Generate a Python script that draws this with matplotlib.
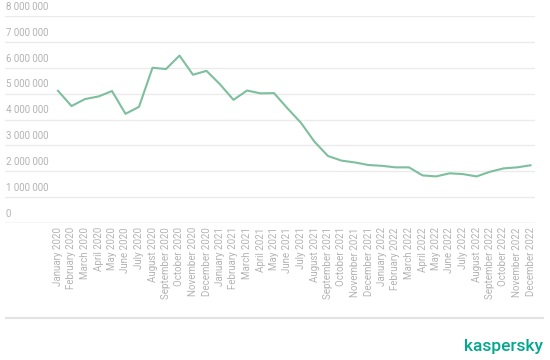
import matplotlib.pyplot as plt
from matplotlib.lines import Line2D

months = [
    "January", "February", "March", "April", "May", "June",
    "July", "August", "September", "October", "November", "December",
]
years = [2020, 2021, 2022]
labels = [f"{m} {y}" for y in years for m in months]

values = [
    5.11, 4.52, 4.79, 4.89, 5.10, 4.22, 4.49, 6.00, 5.95, 6.47, 5.73, 5.88,
    5.36, 4.76, 5.12, 5.01, 5.02, 4.43, 3.87, 3.14, 2.59, 2.41, 2.34, 2.24,
    2.21, 2.15, 2.15, 1.84, 1.80, 1.92, 1.89, 1.80, 1.98, 2.11, 2.15, 2.23,
]
values = [v * 1e6 for v in values]

y_ticks = [0, 1e6, 2e6, 3e6, 4e6, 5e6, 6e6, 7e6, 8e6]

W, H = 550, 360
fig = plt.figure(figsize=(5.5, 3.6), dpi=100)
plt.rcParams["font.family"] = ["Roboto", "DejaVu Sans"]

# axes from x=5..535 px, y=16..223 px (from top)
ax = fig.add_axes([5 / W, (H - 223) / H, 530 / W, (223 - 16) / H])

x = list(range(len(values)))
ax.plot(x, values, color="#7dbf9e", lw=1.5)

# first point at px 58, last at px 530.5
ppm = (530.5 - 58) / 35
ax.set_xlim(-(58 - 5) / ppm, 35 + (535 - 530.5) / ppm)
ax.set_ylim(0, 8e6)

ax.set_yticks(y_ticks)
ax.yaxis.grid(True, color="#ebebeb", lw=1)
ax.tick_params(axis="y", length=0, labelleft=False)
# y labels sit above their gridline, left aligned
for t in y_ticks:
    lab = f"{int(t):,}".replace(",", " ")
    ax.annotate(lab, xy=(1 / 530, t), xycoords=ax.get_yaxis_transform(),
                xytext=(0, 3), textcoords="offset points",
                ha="left", va="bottom", fontsize=7, color="#b3b3b3")

ax.set_xticks(x)
ax.set_xticklabels(labels, rotation=90, fontsize=7, color="#b3b3b3")
ax.tick_params(axis="x", length=0, pad=3)

for s in ax.spines.values():
    s.set_visible(False)
ax.axhline(0, color="#e3e3e3", lw=1)
ax.set_facecolor("none")

# footer separator and logo
fig.add_artist(Line2D([6 / W, 543 / W], [(H - 318) / H] * 2, color="#e3e3e3", lw=1.5,
                      transform=fig.transFigure))
fig.text(543 / W, (H - 347) / H, "kaspersky", ha="right", va="center",
         fontsize=12.5, color="#00a88e", fontweight="medium")

fig.savefig("out.png", dpi=100)
